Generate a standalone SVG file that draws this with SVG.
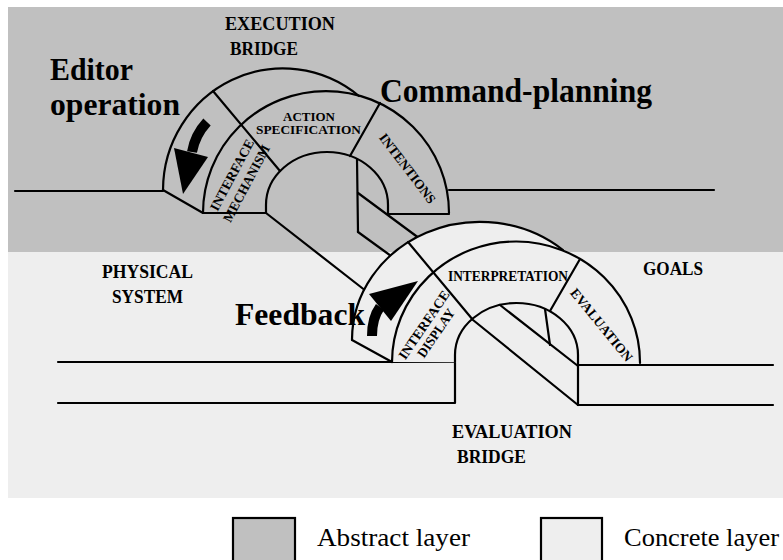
<svg xmlns="http://www.w3.org/2000/svg" width="783" height="560" viewBox="0 0 783 560">
  <style>
    .ln { fill: none; stroke: #000; stroke-width: 2.2; stroke-linejoin: round; stroke-linecap: round; }
    .lbl { font-family: 'Liberation Serif', 'Times New Roman', serif; font-weight: bold; fill: #000; }
    .big { font-size: 32px; }
    .mid { font-size: 18px; }
    .sm { font-size: 13.5px; }
    .leg { font-family: 'Liberation Serif', 'Times New Roman', serif; font-size: 26px; fill: #000; }
    .box { stroke: #000; stroke-width: 2.2; }
  </style>

  <!-- layer backgrounds -->
  <g id="layers">
    <rect x="8" y="7" width="775" height="245" fill="#c0c0c0"/>
    <rect x="8" y="252" width="775" height="246" fill="#eeeeee"/>
  </g>

  <!-- ground lines and the ramp joining the two bridges -->
  <g id="connectors" class="ln">
    <path d="M15,191 L163,191"/>
    <path d="M449,190 L714,190"/>
    <path d="M266,213 L364,289.5"/>
    <path d="M358,193 L417.5,237"/>
    <path d="M358,232 L391,256"/>
    <path d="M58,362 L455,362"/>
    <path d="M58,403 L455,403 L455,362"/>
    <path d="M578,365 L773,365"/>
    <path d="M578,405 L773,405"/>
    <path d="M578,365 L578,405"/>
  </g>

  <!-- execution bridge (abstract layer) -->
  <g id="execution-bridge">
    <g class="ln">
      <path d="M163,190 A120,122 0 0,1 359,96"/>
      <path d="M203,213 A123,122 0 0,1 449,213"/>
      <path d="M266,213 L266,205 A61,53 0 0,1 388,205 L388,214"/>
      <path d="M163,190 L203,213 L266,213"/>
      <path d="M388,214 L449,214"/>
      <path d="M213,91 L280,171"/>
      <path d="M380,103 L350,156"/>
      <path d="M357,159 L358,232"/>
    </g>
    <!-- editor operation arrow -->
    <path d="M207,122 Q195,135 192,152" fill="none" stroke="#000" stroke-width="10"/>
    <polygon points="174,148 208,157 183,194" fill="#000"/>
    <text class="lbl" x="309" y="121" font-size="12" text-anchor="middle" textLength="52" lengthAdjust="spacingAndGlyphs">ACTION</text>
    <text class="lbl" x="308.5" y="134" font-size="12" text-anchor="middle" textLength="105" lengthAdjust="spacingAndGlyphs">SPECIFICATION</text>
    <text class="lbl sm" transform="translate(232,175) rotate(-62)" text-anchor="middle" dominant-baseline="central" textLength="79" lengthAdjust="spacingAndGlyphs">INTERFACE</text>
    <text class="lbl sm" transform="translate(246.5,183.5) rotate(-62)" text-anchor="middle" dominant-baseline="central" textLength="85" lengthAdjust="spacingAndGlyphs">MECHANISM</text>
    <text class="lbl sm" transform="translate(407.5,168.5) rotate(52.7)" text-anchor="middle" dominant-baseline="central" textLength="84" lengthAdjust="spacingAndGlyphs">INTENTIONS</text>
  </g>

  <!-- evaluation bridge (concrete layer) -->
  <g id="evaluation-bridge">
    <path d="M352,340 A128,118 0 0,1 563,250 A124,121 0 0,1 640,363 L392,362 Z" fill="#eeeeee"/>
    <g class="ln">
      <path d="M352,340 A128,118 0 0,1 563,250"/>
      <path d="M392,362 A124,121 0 0,1 640,363"/>
      <path d="M352,340 L392,362"/>
      <path d="M455,362 L455,355 A61.5,52 0 0,1 578,355 L578,365"/>
      <path d="M408,242 L473,320 L578,405"/>
      <path d="M580,259 L550,311"/>
      <path d="M500,305 L578,366"/>
      <path d="M545,309 L550,345"/>
    </g>
    <!-- feedback arrow -->
    <path d="M372,336 Q372,318 380,307" fill="none" stroke="#000" stroke-width="10"/>
    <polygon points="369,294 418,281 391,321" fill="#000"/>
    <text class="lbl" x="508" y="281" font-size="14" text-anchor="middle" textLength="120" lengthAdjust="spacingAndGlyphs">INTERPRETATION</text>
    <text class="lbl sm" transform="translate(424,325) rotate(-55.8)" text-anchor="middle" dominant-baseline="central" textLength="80" lengthAdjust="spacingAndGlyphs">INTERFACE</text>
    <text class="lbl sm" transform="translate(436,333) rotate(-55.8)" text-anchor="middle" dominant-baseline="central" textLength="56" lengthAdjust="spacingAndGlyphs">DISPLAY</text>
    <text class="lbl sm" transform="translate(601.5,325) rotate(50.8)" text-anchor="middle" dominant-baseline="central" textLength="90" lengthAdjust="spacingAndGlyphs">EVALUATION</text>
  </g>

  <!-- free-standing labels -->
  <g id="label-execution-bridge">
    <text class="lbl mid" x="225" y="30" textLength="110" lengthAdjust="spacingAndGlyphs">EXECUTION</text>
    <text class="lbl mid" x="230" y="55" textLength="68" lengthAdjust="spacingAndGlyphs">BRIDGE</text>
  </g>
  <g id="label-editor-operation">
    <text class="lbl big" x="50" y="80" textLength="83" lengthAdjust="spacingAndGlyphs">Editor</text>
    <text class="lbl big" x="50" y="115" textLength="130" lengthAdjust="spacingAndGlyphs">operation</text>
  </g>
  <g id="label-command-planning">
    <text class="lbl" x="380" y="101.5" font-size="34" textLength="272" lengthAdjust="spacingAndGlyphs">Command-planning</text>
  </g>
  <g id="label-physical-system">
    <text class="lbl mid" x="102" y="278" textLength="91" lengthAdjust="spacingAndGlyphs">PHYSICAL</text>
    <text class="lbl mid" x="112" y="303" textLength="71" lengthAdjust="spacingAndGlyphs">SYSTEM</text>
  </g>
  <g id="label-goals">
    <text class="lbl mid" x="643" y="275" textLength="60" lengthAdjust="spacingAndGlyphs">GOALS</text>
  </g>
  <g id="label-feedback">
    <text class="lbl big" x="235" y="325" textLength="130" lengthAdjust="spacingAndGlyphs">Feedback</text>
  </g>
  <g id="label-evaluation-bridge">
    <text class="lbl mid" x="452" y="438" textLength="120" lengthAdjust="spacingAndGlyphs">EVALUATION</text>
    <text class="lbl mid" x="457" y="463" textLength="69" lengthAdjust="spacingAndGlyphs">BRIDGE</text>
  </g>

  <!-- legend -->
  <g id="legend-abstract">
    <rect class="box" x="233" y="518" width="62" height="50" fill="#c0c0c0"/>
    <text class="leg" x="317" y="546" textLength="153" lengthAdjust="spacingAndGlyphs">Abstract  layer</text>
  </g>
  <g id="legend-concrete">
    <rect class="box" x="541" y="518" width="61" height="50" fill="#eeeeee"/>
    <text class="leg" x="624" y="546" textLength="155" lengthAdjust="spacingAndGlyphs">Concrete layer</text>
  </g>
</svg>
